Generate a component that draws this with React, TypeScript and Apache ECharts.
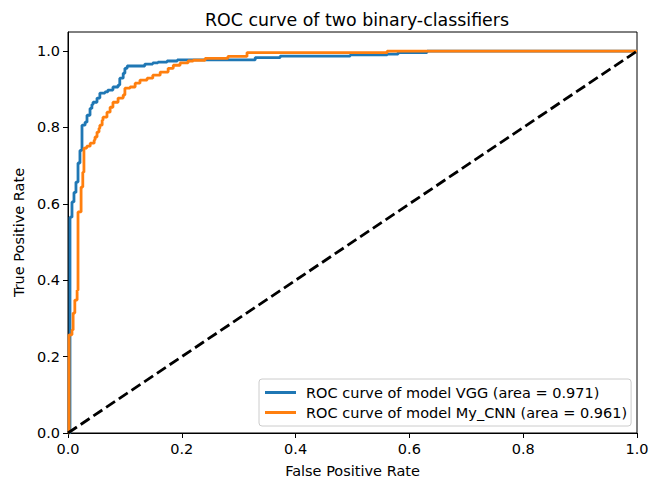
import React, { useEffect, useRef } from "react";
import * as echarts from "echarts";

const title = "ROC curve of two binary-classifiers";
const xName = "False Positive Rate";
const yName = "True Positive Rate";
const vggName = "ROC curve of model VGG (area = 0.971)";
const cnnName = "ROC curve of model My_CNN (area = 0.961)";

const tickValues = [0, 0.2, 0.4, 0.6, 0.8, 1.0];

const vggFpr = [0, 0.0035, 0.007, 0.0105, 0.014, 0.0176, 0.021, 0.0246, 0.03, 0.0334, 0.0387, 0.042, 0.044, 0.051, 0.056, 0.065, 0.07, 0.079, 0.088, 0.091, 0.097, 0.1, 0.104, 0.135, 0.149, 0.158, 0.174, 0.192, 0.329, 0.373, 0.496, 0.561, 0.58, 0.631, 1.0];
const vggTpr = [0, 0.565, 0.605, 0.63, 0.657, 0.707, 0.74, 0.806, 0.814, 0.832, 0.85, 0.86, 0.866, 0.877, 0.89, 0.893, 0.898, 0.906, 0.911, 0.929, 0.942, 0.955, 0.961, 0.966, 0.969, 0.971, 0.974, 0.977, 0.983, 0.987, 0.99, 0.992, 0.996, 1.0, 1.0];

const cnnFpr = [0, 0.0018, 0.007, 0.009, 0.012, 0.016, 0.0176, 0.023, 0.026, 0.028, 0.033, 0.039, 0.046, 0.0475, 0.051, 0.0545, 0.056, 0.06, 0.0615, 0.0685, 0.074, 0.079, 0.088, 0.097, 0.1, 0.109, 0.118, 0.1265, 0.139, 0.149, 0.162, 0.176, 0.185, 0.197, 0.211, 0.22, 0.241, 0.281, 0.3146, 0.561, 1.0];
const cnnTpr = [0, 0.257, 0.27, 0.314, 0.348, 0.374, 0.579, 0.644, 0.683, 0.746, 0.751, 0.759, 0.767, 0.775, 0.788, 0.798, 0.806, 0.819, 0.827, 0.84, 0.853, 0.866, 0.877, 0.885, 0.903, 0.906, 0.916, 0.924, 0.929, 0.937, 0.945, 0.955, 0.963, 0.969, 0.974, 0.976, 0.981, 0.986, 0.996, 1.0, 1.0];

const diagX = [0, 1];
const diagY = [0, 1];

const zip = (xs: number[], ys: number[]) => xs.map((x, i) => [x, ys[i]]);

const FONT = "DejaVu Sans";
const FS = 14.5;

export default function App() {
  const ref = useRef<HTMLDivElement>(null);
  useEffect(() => {
    if (!ref.current) return;
    const chart = echarts.init(ref.current, undefined, { renderer: "svg" });
    const fmt = (v: number) => {
      const r = Math.round(v * 10) / 10;
      if (Math.abs(r * 5 - Math.round(r * 5)) > 1e-6 || Math.abs(v - r) > 1e-6) return "";
      return r.toFixed(1);
    };
    chart.setOption({
      animation: false,
      backgroundColor: "#ffffff",
      textStyle: { fontFamily: FONT },
      title: {
        text: title,
        left: 352,
        textAlign: "center",
        top: 6,
        textStyle: { fontFamily: FONT, fontSize: 17.4, fontWeight: "normal", color: "#000" },
      },
      grid: {
        left: 68,
        right: 14,
        top: 32,
        bottom: 46,
        show: true,
        borderColor: "#000",
        borderWidth: 1,
        backgroundColor: "transparent",
        containLabel: false,
        outerBoundsMode: "none",
      },
      legend: {
        orient: "vertical",
        left: 259,
        top: 379,
        itemWidth: 31,
        itemHeight: 3,
        itemGap: 5,
        padding: [6, 4, 6, 6],
        borderColor: "#cccccc",
        borderWidth: 1,
        borderRadius: 3,
        backgroundColor: "rgba(255,255,255,0.8)",
        textStyle: { fontFamily: FONT, fontSize: FS, color: "#000", padding: [0, 0, 0, 5] },
        data: [
          { name: vggName, icon: "rect" },
          { name: cnnName, icon: "rect" },
        ],
      },
      xAxis: {
        type: "value",
        min: 0,
        max: 1,
        interval: 0.2,
        name: xName,
        nameLocation: "middle",
        nameGap: 30,
        nameTextStyle: { fontFamily: FONT, fontSize: FS, color: "#000" },
        axisLine: { show: true, lineStyle: { color: "#000", width: 1 } },
        axisTick: { show: true, length: 5, lineStyle: { color: "#000" } },
        axisLabel: { fontFamily: FONT, fontSize: FS, color: "#000", margin: 8, formatter: fmt },
        splitLine: { show: false },
      },
      yAxis: {
        type: "value",
        min: 0,
        max: 1.05,
        interval: 0.2,
        name: yName,
        nameLocation: "middle",
        nameGap: 39,
        nameTextStyle: { fontFamily: FONT, fontSize: FS, color: "#000" },
        axisLine: { show: true, lineStyle: { color: "#000", width: 1 } },
        axisTick: { show: true, length: 5, lineStyle: { color: "#000" }, customValues: tickValues },
        axisLabel: { fontFamily: FONT, fontSize: FS, color: "#000", margin: 8, formatter: fmt, customValues: tickValues },
        splitLine: { show: false },
      },
      series: [
        {
          name: vggName,
          type: "line",
          step: "end",
          showSymbol: false,
          data: zip(vggFpr, vggTpr),
          lineStyle: { color: "#1f77b4", width: 2.8 },
          itemStyle: { color: "#1f77b4" },
        },
        {
          name: cnnName,
          type: "line",
          step: "end",
          showSymbol: false,
          data: zip(cnnFpr, cnnTpr),
          lineStyle: { color: "#ff7f0e", width: 2.8 },
          itemStyle: { color: "#ff7f0e" },
        },
        {
          name: "diagonal",
          type: "line",
          showSymbol: false,
          data: zip(diagX, diagY),
          lineStyle: { color: "#000", width: 2.8, type: [10.7, 4.6] },
          itemStyle: { color: "#000" },
        },
      ],
    });
    return () => chart.dispose();
  }, []);
  return <div ref={ref} style={{ width: 651, height: 479, position: "absolute", left: 0, top: 0 }} />;
}
